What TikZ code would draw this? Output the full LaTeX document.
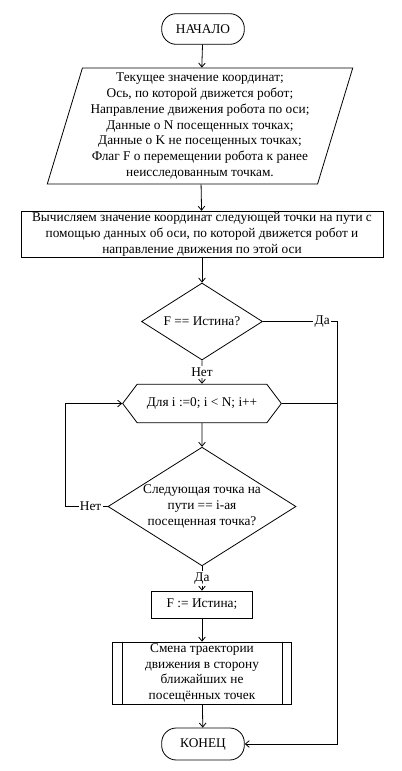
\documentclass[tikz,border=0pt]{standalone}
\usepackage{fontspec}
\setmainfont{Liberation Serif}
\usetikzlibrary{shapes.geometric,shapes.symbols,arrows.meta}

\tikzset{
  base/.style={draw, line width=0.6pt, align=center, inner sep=1pt,
    font=\fontsize{10}{11.8}\selectfont},
  term/.style={base, rounded corners=11pt, minimum width=62pt, minimum height=23pt},
  io/.style={base, trapezium, trapezium left angle=73, trapezium right angle=107,
    trapezium stretches=true, minimum width=229.5pt, minimum height=87pt},
  proc/.style={base, rectangle},
  cond/.style={base, diamond, aspect=1.58, inner sep=0pt},
  loopbox/.style={base, signal, signal to=west and east, signal pointer angle=106,
    minimum width=119pt, minimum height=29pt},
  arr/.style={line width=0.6pt, -{Straight Barb[length=3pt,width=5pt]}},
  ln/.style={line width=0.6pt},
  lbl/.style={fill=white, inner sep=1pt, font=\fontsize{10}{11.8}\selectfont}
}

\begin{document}
\begin{tikzpicture}[x=0.75pt, y=-0.75pt]

\useasboundingbox (0,0) rectangle (401,771);

\node[term] (start) at (203,29) {НАЧАЛО};
\node[io] (data) at (200,126) {Текущее значение координат;\\Ось, по которой движется робот;\\Направление движения робота по оси;\\Данные о N посещенных точках;\\Данные о K не посещенных точках;\\Флаг F о перемещении робота к ранее\\неисследованным точкам.};
\node[proc, minimum width=271.5pt, minimum height=35pt] (calc) at (202,234.5) {Вычисляем значение координат следующей точки на пути с\\помощью данных об оси, по которой движется робот и\\направление движения по этой оси};
\node[cond, minimum width=90.75pt, minimum height=57.75pt] (chkF) at (202,321.5) {F == Истина?};
\node[loopbox] (loop) at (202,403.5) {Для i :=0; i < N; i++};
\node[cond, minimum width=141pt, minimum height=89pt] (chkpt) at (202,506.5) {Следующая точка на\\пути == i-ая\\посещенная точка?};
\node[proc, minimum width=75.75pt, minimum height=20.25pt] (setF) at (202,604.5) {F := Истина;};
\node[proc, minimum width=134.25pt, minimum height=46.5pt] (change) at (202,673) {Смена траектории\\движения в сторону\\ближайших не\\посещённых точек};
\node[term, minimum height=24pt] (finish) at (203,744) {КОНЕЦ};

\draw[ln] ([xshift=7.5pt]change.north west) -- ([xshift=7.5pt]change.south west);
\draw[ln] ([xshift=-7.5pt]change.north east) -- ([xshift=-7.5pt]change.south east);

\coordinate (rt) at (337,321.5);
\coordinate (lt) at (65,506.5);

\draw[arr] (start) -- (data);
\draw[arr] (data) -- (calc);
\draw[arr] (calc) -- (chkF);
\draw[arr] (chkF) -- node[lbl] {Нет} (loop);
\draw[arr] (loop) -- (chkpt);
\draw[arr] (chkpt) -- node[lbl] {Да} (setF);
\draw[arr] (setF) -- (change);
\draw[arr] (change) -- (finish);

\draw[arr] (chkF.east) -- node[lbl, pos=0.8] {Да} (rt) -- (rt |- finish) -- (finish.east);
\draw[ln] (loop.east) -- (loop.east -| rt);
\draw[arr] (chkpt.west) -- node[lbl, pos=0.4] {Нет} (lt) -- (lt |- loop) -- (loop.west);

\end{tikzpicture}
\end{document}
